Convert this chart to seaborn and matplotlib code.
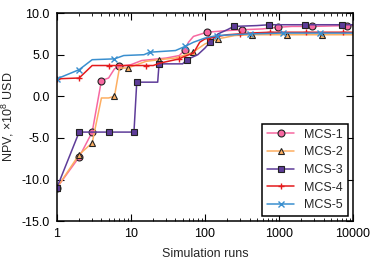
import pandas as pd
import seaborn as sns
import matplotlib
matplotlib.use("Agg")
import matplotlib.pyplot as plt
from matplotlib.ticker import FixedLocator, LogLocator, NullFormatter, FormatStrFormatter

# Best NPV found so far vs. number of simulation runs
mcs1_runs = [1, 2, 3, 4, 5, 6, 7, 10, 14, 30, 45, 54, 60, 70, 90, 106, 200, 316, 600, 970, 1500, 2800, 8300, 10000]
mcs1_npv = [-11.0, -7.3, -4.3, 1.9, 2.2, 3.3, 3.6, 3.8, 4.3, 4.6, 4.9, 5.6, 6.5, 7.2, 7.5, 7.7, 7.9, 8.0, 8.1, 8.3, 8.4, 8.4, 8.5, 8.5]
mcs1_marks = [1, 2, 3, 4, 7, 54, 106, 316, 970, 2800, 8300]

mcs2_runs = [1, 2, 3, 4, 5, 6, 7, 9, 12, 16, 24, 40, 69, 100, 150, 250, 430, 1290, 3800, 10000]
mcs2_npv = [-11.0, -7.0, -5.6, -0.2, -0.2, 0.0, 3.4, 3.4, 3.8, 4.2, 4.4, 4.6, 5.3, 6.3, 6.9, 7.3, 7.4, 7.4, 7.4, 7.4]
mcs2_marks = [1, 2, 3, 6, 9, 24, 69, 150, 430, 1290, 3800]

mcs3_runs = [1, 2, 5, 11, 12, 23, 24, 50, 57, 80, 100, 117, 150, 200, 245, 500, 734, 2240, 7000, 10000]
mcs3_npv = [-11.0, -4.3, -4.3, -4.3, 1.7, 1.7, 3.9, 3.9, 4.4, 5.0, 5.8, 6.5, 7.5, 8.0, 8.4, 8.5, 8.6, 8.6, 8.6, 8.6]
mcs3_marks = [1, 2, 5, 11, 12, 24, 57, 117, 245, 734, 2240, 7000]

mcs4_runs = [1, 2, 3, 5, 16, 20, 25, 45, 50, 70, 85, 100, 110, 130, 200, 300, 400, 750, 2300, 7300, 10000]
mcs4_npv = [2.1, 2.2, 3.7, 3.7, 3.7, 3.7, 4.0, 4.5, 4.7, 5.2, 6.5, 6.9, 7.0, 7.1, 7.4, 7.5, 7.6, 7.7, 7.7, 7.7, 7.7]
mcs4_marks = [1, 2, 5, 16, 45, 110, 300, 750, 2300, 7300]

mcs5_runs = [1, 2, 3, 6, 8, 15, 18, 40, 54, 70, 100, 145, 400, 1130, 3600, 10000]
mcs5_npv = [2.1, 3.2, 4.4, 4.5, 4.9, 5.0, 5.3, 5.5, 6.0, 6.5, 7.0, 7.3, 7.5, 7.6, 7.6, 7.6]
mcs5_marks = [1, 2, 6, 18, 54, 145, 400, 1130, 3600]

series = [
    ("MCS-1", mcs1_runs, mcs1_npv, mcs1_marks, "#f768a1", "o"),
    ("MCS-2", mcs2_runs, mcs2_npv, mcs2_marks, "#fdae61", "^"),
    ("MCS-3", mcs3_runs, mcs3_npv, mcs3_marks, "#5e3c99", "s"),
    ("MCS-4", mcs4_runs, mcs4_npv, mcs4_marks, "#e41a1c", "+"),
    ("MCS-5", mcs5_runs, mcs5_npv, mcs5_marks, "#3a8fcf", "x"),
]

sns.set_theme(style="ticks")
plt.rcParams["font.family"] = ["Liberation Sans", "DejaVu Sans"]
plt.rcParams["axes.unicode_minus"] = False
plt.rcParams["mathtext.fontset"] = "custom"
plt.rcParams["mathtext.rm"] = "Liberation Sans"
plt.rcParams["mathtext.it"] = "Liberation Sans:italic"

fig, ax = plt.subplots(figsize=(3.74, 2.62), dpi=100)
fig.subplots_adjust(left=0.152, right=0.944, top=0.950, bottom=0.156)

for name, runs, npv, marks, color, marker in series:
    df = pd.DataFrame({"runs": runs, "npv": npv})
    idx = [runs.index(r) for r in marks]
    mec = color if marker in ("+", "x") else "#222222"
    sns.lineplot(data=df, x="runs", y="npv", ax=ax, color=color, label=name,
                 marker=marker, markevery=idx, markersize=5, markeredgecolor=mec,
                 markeredgewidth=0.8 if marker not in ("+", "x") else 1.0,
                 linewidth=1.1, sort=False, estimator=None)

ax.set_xscale("log")
ax.set_xlim(1, 10000)
ax.set_ylim(-15, 10)
ax.xaxis.set_major_locator(FixedLocator([1, 10, 100, 1000, 10000]))
ax.xaxis.set_major_formatter(FormatStrFormatter("%d"))
ax.xaxis.set_minor_locator(LogLocator(base=10, subs=range(2, 10)))
ax.xaxis.set_minor_formatter(NullFormatter())
ax.yaxis.set_major_locator(FixedLocator([-15, -10, -5, 0, 5, 10]))
ax.yaxis.set_major_formatter(FormatStrFormatter("%.1f"))

for side in ["top", "right", "bottom", "left"]:
    ax.spines[side].set_visible(True)
    ax.spines[side].set_color("black")
    ax.spines[side].set_linewidth(1.1)
ax.tick_params(which="both", direction="in", top=True, right=True, colors="black", labelsize=9)
ax.tick_params(which="major", length=5, width=0.8, pad=5)
ax.tick_params(which="minor", length=2.5, width=0.6)

ax.set_xlabel("Simulation runs", fontsize=9, labelpad=6)
ax.set_ylabel(r"NPV, $\times10^8$ USD", fontsize=9, labelpad=4)

leg = ax.legend(loc="lower right", fontsize=9, frameon=True, fancybox=False,
                edgecolor="black", framealpha=1, handlelength=2.2, handletextpad=0.8,
                labelspacing=0.45, borderpad=0.4, borderaxespad=0.4)
leg.get_frame().set_linewidth(1.1)

fig.savefig("out.png", dpi=100)
